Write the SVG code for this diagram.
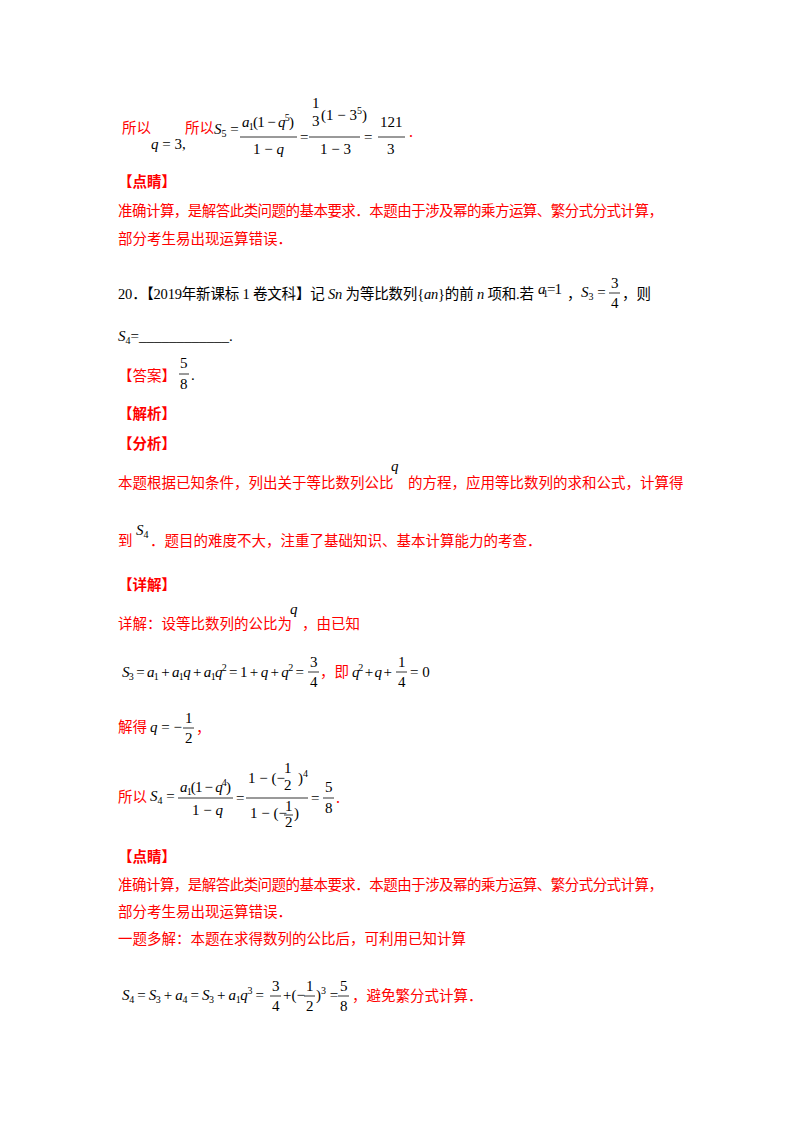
<svg xmlns="http://www.w3.org/2000/svg" width="800" height="1132" viewBox="0 0 800 1132">
<style>
.r{fill:#f00;font-family:"Noto Sans CJK SC","Liberation Serif",sans-serif;font-size:14.5px}
.rb{fill:#f00;font-family:"Noto Sans CJK SC",sans-serif;font-size:14.5px;font-weight:bold}
.k{fill:#000;font-family:"Liberation Serif","Noto Sans CJK SC",serif;font-size:14.5px}
.m{fill:#000;font-family:"Liberation Serif",serif;font-size:15px}
.i{font-style:italic}
.s{font-size:10px}
line{stroke:#000;stroke-width:0.8}
</style>
<rect width="800" height="1132" fill="#fff"/>
<g id="l1">
<text class="r" x="122" y="133">所以</text>
<text class="m" x="151" y="149"><tspan class="i">q</tspan> = 3,</text>
<text class="r" x="185" y="133">所以</text>
<text class="m" x="214" y="134"><tspan class="i">S</tspan><tspan class="s" dy="3">5</tspan><tspan dy="-3"> =</tspan></text>
<text class="m" x="242" y="127" textLength="52"><tspan class="i">a</tspan><tspan class="s" dy="3">1</tspan><tspan dy="-3">(1 − </tspan><tspan class="i">q</tspan><tspan class="s" dy="-6">5</tspan><tspan dy="6">)</tspan></text>
<line x1="240" y1="137" x2="297" y2="137"/>
<text class="m" x="253" y="154">1 − <tspan class="i">q</tspan></text>
<text class="m" x="300" y="142">=</text>
<text class="m" x="312" y="108">1</text>
<text class="m" x="312" y="126">3</text>
<text class="m" x="321" y="120">(1 − 3<tspan class="s" dy="-6">5</tspan><tspan dy="6">)</tspan></text>
<line x1="309" y1="137" x2="360" y2="137"/>
<text class="m" x="320" y="154">1 − 3</text>
<text class="m" x="364" y="142">=</text>
<text class="m" x="380" y="127">121</text>
<line x1="378" y1="137" x2="405" y2="137"/>
<text class="m" x="387" y="154">3</text>
<text class="r" x="409" y="137">.</text>
</g>
<g id="p1">
<text class="rb" x="118" y="187">【点睛】</text>
<text class="r" x="118" y="216" textLength="545">准确计算，是解答此类问题的基本要求．本题由于涉及幂的乘方运算、繁分式分式计算，</text>
<text class="r" x="118" y="244">部分考生易出现运算错误．</text>
</g>
<g id="q20">
<text class="k" x="118" y="299" textLength="416">20．【2019年新课标 1 卷文科】记 <tspan class="i">Sn</tspan> 为等比数列{<tspan class="i">an</tspan>}的前 <tspan class="i">n</tspan> 项和.若</text>
<text class="m" x="538" y="294" textLength="24"><tspan class="i">a</tspan><tspan class="s" dy="3">1</tspan><tspan dy="-3"> = 1</tspan></text>
<text class="k" x="567" y="299">，</text>
<text class="m" x="581" y="297"><tspan class="i">S</tspan><tspan class="s" dy="3">3</tspan><tspan dy="-3"> =</tspan></text>
<text class="m" x="611" y="288">3</text>
<line x1="609" y1="293" x2="620" y2="293"/>
<text class="m" x="611" y="308">4</text>
<text class="k" x="622" y="299">，则</text>
<text class="m" x="118" y="341"><tspan class="i">S</tspan><tspan class="s" dy="3">4</tspan><tspan dy="-3">=____________.</tspan></text>
<text class="r" x="118" y="381">【答案】</text>
<text class="m" x="180" y="368">5</text>
<line x1="179" y1="374" x2="189" y2="374"/>
<text class="m" x="180" y="389">8</text>
<text class="m" x="191" y="380">.</text>
</g>
<g id="p2">
<text class="rb" x="118" y="419">【解析】</text>
<text class="rb" x="118" y="449">【分析】</text>
<text class="r" x="118" y="488">本题根据已知条件，列出关于等比数列公比</text>
<text class="m i" x="391" y="471" font-size="17">q</text>
<text class="r" x="408" y="488">的方程，应用等比数列的求和公式，计算得</text>
<text class="r" x="118" y="546">到</text>
<text class="m" x="136" y="535"><tspan class="i">S</tspan><tspan class="s" dy="3">4</tspan></text>
<text class="r" x="150" y="546">．题目的难度不大，注重了基础知识、基本计算能力的考查．</text>
<text class="rb" x="118" y="590">【详解】</text>
<text class="r" x="118" y="629">详解：设等比数列的公比为</text>
<text class="m i" x="290" y="614" font-size="17">q</text>
<text class="r" x="302" y="629">，由已知</text>
</g>
<g id="eq1">
<text class="m" x="122" y="677" textLength="182"><tspan class="i">S</tspan><tspan class="s" dy="3">3</tspan><tspan dy="-3"> = </tspan><tspan class="i">a</tspan><tspan class="s" dy="3">1</tspan><tspan dy="-3"> + </tspan><tspan class="i">a</tspan><tspan class="s" dy="3">1</tspan><tspan dy="-3" class="i">q</tspan><tspan> + </tspan><tspan class="i">a</tspan><tspan class="s" dy="3">1</tspan><tspan dy="-3" class="i">q</tspan><tspan class="s" dy="-6">2</tspan><tspan dy="6"> = 1 + </tspan><tspan class="i">q</tspan><tspan> + </tspan><tspan class="i">q</tspan><tspan class="s" dy="-6">2</tspan><tspan dy="6"> =</tspan></text>
<text class="m" x="310" y="667">3</text>
<line x1="308" y1="672" x2="319" y2="672"/>
<text class="m" x="310" y="687">4</text>
<text class="r" x="320" y="677">，即</text>
<text class="m" x="352" y="677" textLength="40"><tspan class="i">q</tspan><tspan class="s" dy="-6">2</tspan><tspan dy="6"> + </tspan><tspan class="i">q</tspan><tspan> +</tspan></text>
<text class="m" x="398" y="667">1</text>
<line x1="396" y1="672" x2="407" y2="672"/>
<text class="m" x="398" y="687">4</text>
<text class="m" x="410" y="677">= 0</text>
<text class="r" x="118" y="732">解得</text>
<text class="m" x="150" y="732"><tspan class="i">q</tspan> = −</text>
<text class="m" x="185" y="723">1</text>
<line x1="183" y1="728" x2="194" y2="728"/>
<text class="m" x="185" y="743">2</text>
<text class="r" x="196" y="733">，</text>
</g>
<g id="eq2">
<text class="r" x="118" y="802">所以</text>
<text class="m" x="150" y="801"><tspan class="i">S</tspan><tspan class="s" dy="3">4</tspan><tspan dy="-3"> =</tspan></text>
<text class="m" x="180" y="792" textLength="51"><tspan class="i">a</tspan><tspan class="s" dy="3">1</tspan><tspan dy="-3">(1 − </tspan><tspan class="i">q</tspan><tspan class="s" dy="-6">4</tspan><tspan dy="6">)</tspan></text>
<line x1="178" y1="798" x2="233" y2="798"/>
<text class="m" x="192" y="815">1 − <tspan class="i">q</tspan></text>
<text class="m" x="236" y="803">=</text>
<text class="m" x="248" y="783">1 − (−</text>
<text class="m" x="284" y="773">1</text>
<text class="m" x="284" y="790">2</text>
<text class="m" x="298" y="783">)<tspan class="s" dy="-6">4</tspan></text>
<line x1="246" y1="798" x2="308" y2="798"/>
<text class="m" x="250" y="818">1 − (−</text>
<text class="m" x="285" y="811">1</text>
<line x1="284" y1="815" x2="293" y2="815"/>
<text class="m" x="285" y="827">2</text>
<text class="m" x="294" y="818">)</text>
<text class="m" x="311" y="803">=</text>
<text class="m" x="325" y="792">5</text>
<line x1="323" y1="798" x2="334" y2="798"/>
<text class="m" x="325" y="813">8</text>
<text class="r" x="336" y="803">.</text>
</g>
<g id="p3">
<text class="rb" x="118" y="862">【点睛】</text>
<text class="r" x="118" y="890" textLength="545">准确计算，是解答此类问题的基本要求．本题由于涉及幂的乘方运算、繁分式分式计算，</text>
<text class="r" x="118" y="917">部分考生易出现运算错误．</text>
<text class="r" x="118" y="944">一题多解：本题在求得数列的公比后，可利用已知计算</text>
<text class="m" x="122" y="1000" textLength="142"><tspan class="i">S</tspan><tspan class="s" dy="3">4</tspan><tspan dy="-3"> = </tspan><tspan class="i">S</tspan><tspan class="s" dy="3">3</tspan><tspan dy="-3"> + </tspan><tspan class="i">a</tspan><tspan class="s" dy="3">4</tspan><tspan dy="-3"> = </tspan><tspan class="i">S</tspan><tspan class="s" dy="3">3</tspan><tspan dy="-3"> + </tspan><tspan class="i">a</tspan><tspan class="s" dy="3">1</tspan><tspan dy="-3" class="i">q</tspan><tspan class="s" dy="-6">3</tspan><tspan dy="6"> =</tspan></text>
<text class="m" x="272" y="991">3</text>
<line x1="270" y1="996" x2="281" y2="996"/>
<text class="m" x="272" y="1011">4</text>
<text class="m" x="283" y="1000">+(−</text>
<text class="m" x="306" y="991">1</text>
<line x1="304" y1="996" x2="315" y2="996"/>
<text class="m" x="306" y="1011">2</text>
<text class="m" x="316" y="1000">)<tspan class="s" dy="-6">3</tspan><tspan dy="6"> =</tspan></text>
<text class="m" x="340" y="991">5</text>
<line x1="338" y1="996" x2="349" y2="996"/>
<text class="m" x="340" y="1011">8</text>
<text class="r" x="352" y="1001">，避免繁分式计算．</text>
</g>
</svg>
